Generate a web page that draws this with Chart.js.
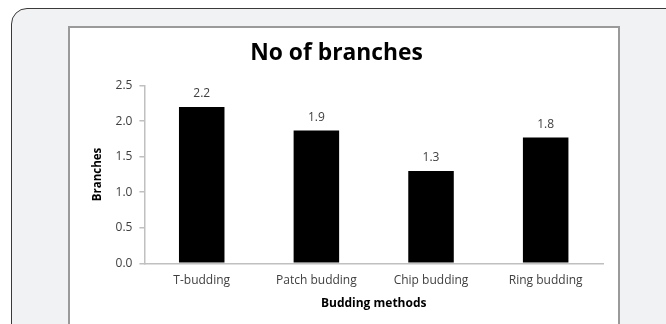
<!DOCTYPE html>
<html>
<head>
<meta charset="utf-8">
<script src="https://cdn.jsdelivr.net/npm/chart.js@4"></script>
<style>
  html, body { margin: 0; padding: 0; background: #fff; overflow: hidden; }
  body { width: 666px; height: 324px; position: relative; }
  .panel {
    position: absolute; left: 11px; top: 8px; width: 720px; height: 400px;
    background: #f1f2f4; border: 1.5px solid #3a3a3a; border-radius: 16px;
  }
  .box {
    position: absolute; left: 68px; top: 26px; width: 548px; height: 320px;
    background: #fff; border: 2px solid #9a9a9a;
  }
  #chart { position: absolute; left: 70px; top: 28px; }
</style>
</head>
<body>
<div class="panel"></div>
<div class="box"></div>
<canvas id="chart" width="548" height="296"></canvas>
<script>
const categories = ['T-budding', 'Patch budding', 'Chip budding', 'Ring budding'];
const branches = [2.2, 1.87, 1.3, 1.77];
const yTicks = [0, 0.5, 1.0, 1.5, 2.0, 2.5];

const fontName = '"Open Sans", Lato, sans-serif';

// value labels above the bars
const barLabels = {
  id: 'barLabels',
  afterDatasetsDraw(chart) {
    const ctx = chart.ctx;
    const meta = chart.getDatasetMeta(0);
    ctx.save();
    ctx.font = '12px ' + fontName;
    ctx.fillStyle = '#404040';
    ctx.textAlign = 'center';
    ctx.textBaseline = 'alphabetic';
    meta.data.forEach((bar, i) => {
      ctx.fillText(branches[i].toFixed(1), bar.x, bar.y - 9.5);
    });
    ctx.restore();
  }
};

const ctx = document.getElementById('chart');

new Chart(ctx, {
  type: 'bar',
  data: {
    labels: categories,
    datasets: [{
      label: 'Branches',
      data: branches,
      backgroundColor: '#000',
      borderWidth: 0,
      categoryPercentage: 1,
      barPercentage: 0.397
    }]
  },
  options: {
    responsive: false,
    animation: false,
    layout: { padding: { left: 0, right: 15, top: 0, bottom: 0 } },
    plugins: {
      legend: { display: false },
      tooltip: { enabled: false },
      title: {
        display: true,
        text: 'No of branches',
        color: '#000',
        font: { family: fontName, size: 22.8, weight: 'bold', lineHeight: 1.2 },
        padding: { top: 12.3, bottom: 18.0 }
      }
    },
    scales: {
      x: {
        grid: { display: false, drawTicks: false },
        border: { display: true, color: '#c0c0c0', width: 1.5 },
        ticks: { color: '#404040', padding: 10, font: { family: fontName, size: 12 } },
        title: {
          display: true,
          text: 'Budding methods',
          color: '#000',
          font: { family: fontName, size: 12, weight: 'bold', lineHeight: 1.2 },
          padding: { top: 0, bottom: 13.5 }
        },
        afterFit(scale) { scale.height = 60.7; }
      },
      y: {
        min: 0,
        max: 2.5,
        afterBuildTicks(scale) { scale.ticks = yTicks.map(v => ({ value: v })); },
        grid: { display: true, drawOnChartArea: false, drawTicks: true, tickLength: 5, color: '#c0c0c0', lineWidth: 1.5 },
        border: { display: true, color: '#c0c0c0', width: 1.5 },
        ticks: {
          color: '#404040',
          padding: 7,
          font: { family: fontName, size: 12 },
          callback: v => v.toFixed(1)
        },
        title: {
          display: true,
          text: 'Branches',
          color: '#000',
          font: { family: fontName, size: 11.5, weight: 'bold', lineHeight: 1.2 },
          padding: { top: 20.8, bottom: 0 }
        },
        afterFit(scale) { scale.width = 74.4; }
      }
    }
  },
  plugins: [barLabels]
});
</script>
</body>
</html>
